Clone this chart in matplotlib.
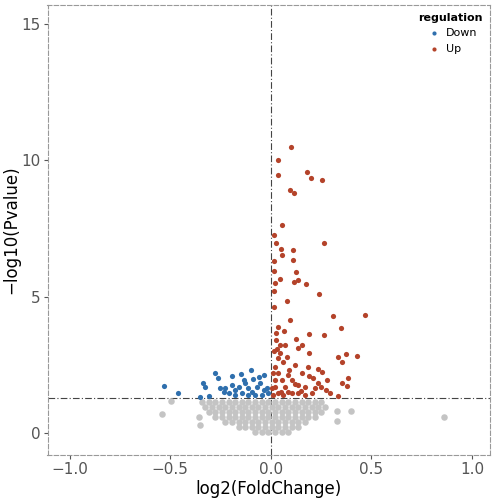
import matplotlib
matplotlib.use("Agg")
import matplotlib.pyplot as plt

up_x = [0.10,0.035,0.038,0.178,0.198,0.257,0.094,0.115,0.056,0.264,0.018,0.025,
        0.050,0.058,0.109,0.109,0.125,0.116,0.134,0.175,0.046,0.018,0.018,0.021,0.018,0.239,0.081,0.018,
        0.097,0.307,0.470,0.348,0.264,0.191,0.127,0.153,0.137,0.068,0.035,0.025,0.026,0.046,0.071,0.046,
        0.035,0.079,0.191,0.335,0.355,0.373,0.429,0.236,0.256,0.281,0.384,0.355,0.380,0.120,0.186,0.153,
        0.211,0.087,0.104,0.137,0.170,0.219,0.236,0.277,0.294,0.021,0.038,0.054,0.071,0.087,0.021,0.021,
        0.038,0.063,0.104,0.137,0.170,0.203,0.005,0.013,0.335,
        0.01,0.06,0.03,0.09,0.12,0.015,0.05,0.15,0.25,0.19]
up_y = [10.5,10.0,9.47,9.57,9.36,9.29,8.91,8.79,7.63,6.96,7.27,6.97,
        6.75,6.54,6.73,6.36,5.92,5.53,5.60,5.47,5.66,5.93,6.30,5.50,5.20,5.09,4.85,4.64,
        4.15,4.29,4.33,3.84,3.59,3.65,3.46,3.25,3.11,3.74,3.88,3.66,3.42,3.24,3.24,2.93,
        2.75,2.81,2.93,2.78,2.61,2.89,2.82,2.34,2.25,1.95,2.02,1.83,1.74,2.50,2.44,2.19,
        2.01,2.13,1.95,1.76,1.70,1.64,1.83,1.58,1.46,2.44,2.19,1.95,1.70,1.52,1.95,1.70,
        1.46,1.40,1.46,1.46,1.40,1.46,1.64,1.40,1.36,
        2.2,2.6,3.1,2.3,1.8,3.0,1.5,1.55,1.7,2.1]

down_x = [-0.531,-0.462,-0.338,-0.325,-0.350,-0.309,-0.276,-0.262,-0.251,-0.234,-0.193,-0.147,
          -0.099,-0.086,-0.056,-0.036,-0.193,-0.177,-0.160,-0.127,-0.111,-0.094,-0.069,-0.053,
          -0.036,-0.020,-0.210,-0.177,-0.144,-0.111,-0.078,-0.045,-0.012,-0.135,-0.226]
down_y = [1.73,1.47,1.83,1.68,1.34,1.36,2.22,2.03,1.64,1.52,2.08,2.17,
          2.32,1.97,2.07,2.12,1.76,1.58,1.70,1.83,1.64,1.52,1.70,1.83,
          1.58,1.64,1.46,1.40,1.46,1.40,1.40,1.40,1.46,1.95,1.64]

grey_rows_y = [1.15, 0.97, 0.78, 0.60, 0.42, 0.23, 0.05]
grey_rows_x = [
    [-0.342,-0.309,-0.276,-0.243,-0.210,-0.177,-0.144,-0.111,-0.078,-0.045,-0.012,0.021,0.054,0.087,0.120,0.153,0.186,0.219,0.252],
    [-0.325,-0.292,-0.259,-0.226,-0.193,-0.160,-0.127,-0.094,-0.061,-0.028,0.005,0.038,0.071,0.104,0.137,0.170,0.203,0.236,0.269],
    [-0.309,-0.276,-0.243,-0.210,-0.177,-0.144,-0.111,-0.078,-0.045,-0.012,0.021,0.054,0.087,0.120,0.153,0.186,0.219,0.252],
    [-0.276,-0.243,-0.210,-0.177,-0.144,-0.111,-0.078,-0.045,-0.012,0.021,0.054,0.087,0.120,0.153,0.186,0.219],
    [-0.226,-0.193,-0.160,-0.127,-0.094,-0.061,-0.028,0.005,0.038,0.071,0.104,0.137,0.170],
    [-0.160,-0.127,-0.094,-0.061,-0.028,0.005,0.038,0.071,0.104,0.137],
    [-0.078,-0.045,-0.012,0.021,0.054,0.087],
]
grey_out_x = [-0.495,-0.540,-0.350,-0.358,0.327,0.401,0.327,0.86]
grey_out_y = [1.18,0.70,0.29,0.60,0.82,0.82,0.44,0.60]

fig = plt.figure(figsize=(5,5), dpi=100)
ax = fig.add_axes([0.095, 0.09, 0.885, 0.90])
gx, gy = [], []
for yv, xs in zip(grey_rows_y, grey_rows_x):
    gx += xs; gy += [yv]*len(xs)
gx += grey_out_x; gy += grey_out_y
ax.scatter(gx, gy, s=22, color="#c4c4c4", linewidths=0, zorder=2)
ax.scatter(down_x, down_y, s=14, color="#2f6fad", linewidths=0, zorder=3, label="Down")
ax.scatter(up_x, up_y, s=14, color="#b4432a", linewidths=0, zorder=3, label="Up")
ax.axhline(1.3, color="#444444", lw=0.8, ls=(0,(6,2,1,2)), zorder=1)
ax.axvline(0, color="#444444", lw=0.8, ls=(0,(6,2,1,2)), zorder=1)
ax.set_xlim(-1.11, 1.09)
ax.set_ylim(-0.8, 15.7)
ax.set_xticks([-1.0,-0.5,0.0,0.5,1.0])
ax.set_yticks([0,5,10,15])
ax.tick_params(labelsize=11, labelcolor="#555555", color="#555555", length=3, pad=2)
for s in ax.spines.values():
    s.set_linestyle((0,(4,2))); s.set_color("#999999"); s.set_linewidth(0.8)
ax.set_xlabel("log2(FoldChange)", fontsize=12, labelpad=2)
ax.set_ylabel("\u2212log10(Pvalue)", fontsize=12, labelpad=1)
leg = ax.legend(title="regulation", loc="upper right", frameon=False, fontsize=8,
                handletextpad=0.1, markerscale=0.8, borderaxespad=0.3)
leg.get_title().set_fontweight("bold"); leg.get_title().set_fontsize(8)
fig.savefig("out.png", dpi=100)
